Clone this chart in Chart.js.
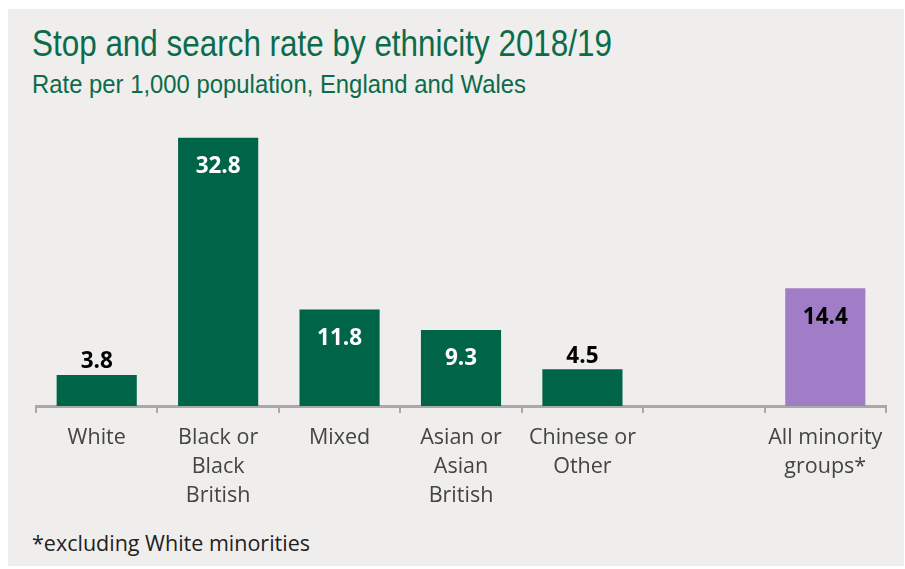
<!DOCTYPE html>
<html>
<head>
    <title>Stop and search rate by ethnicity</title>
    <script src="https://cdn.jsdelivr.net/npm/chart.js"></script>
    <style>
        body { margin: 0; background: #fff; }
        #panel {
            position: absolute; left: 8px; top: 9px; width: 896px; height: 557px;
            background: #efeeec;
        }
        .title {
            position: absolute; left: 24px; top: 14px; margin: 0;
            font-family: "Liberation Sans Narrow", "Liberation Sans", sans-serif;
            font-size: 36px; font-weight: normal; color: #0b6b4b; white-space: nowrap;
            transform-origin: left top;
        }
        .subtitle {
            position: absolute; left: 24px; top: 61px; margin: 0;
            font-family: "Liberation Sans Narrow", "Liberation Sans", sans-serif;
            font-size: 25px; font-weight: normal; color: #0b6b4b; white-space: nowrap;
            transform-origin: left top;
        }
        .note {
            position: absolute; left: 24px; top: 518px; white-space: nowrap;
            font-family: "Open Sans", sans-serif; font-size: 22px; color: #222;
            transform-origin: left top;
        }
        #chart { position: absolute; left: 0; top: 0; }
    </style>
</head>
<body>
    <div id="panel">
        <h1 class="title" id="title">Stop and search rate by ethnicity 2018/19</h1>
        <h2 class="subtitle" id="subtitle">Rate per 1,000 population, England and Wales</h2>
        <div class="note" id="note">*excluding White minorities</div>
    </div>
    <div style="position:absolute;left:0;top:0;width:905px;height:569px;">
        <canvas id="chart" width="905" height="569"></canvas>
    </div>
    <script>
        const categories = [
            ['White'],
            ['Black or', 'Black', 'British'],
            ['Mixed'],
            ['Asian or', 'Asian', 'British'],
            ['Chinese or', 'Other'],
            [''],
            ['All minority', 'groups*']
        ];
        const rates = [3.8, 32.8, 11.8, 9.3, 4.5, null, 14.4];
        const barColors = ['#006548', '#006548', '#006548', '#006548', '#006548', '#006548', '#a17dc8'];
        const labelColors = ['#000', '#fff', '#fff', '#fff', '#000', '#000', '#000'];

        // squeeze heading text to the widths seen in the original
        function fitWidth(id, target) {
            const el = document.getElementById(id);
            const w = el.getBoundingClientRect().width;
            el.style.transform = 'scaleX(' + (target / w) + ')';
        }
        fitWidth('title', 580);
        fitWidth('subtitle', 494);
        fitWidth('note', 278);

        // value labels: inside the bar for tall bars, above for short ones
        const valueLabels = {
            id: 'valueLabels',
            afterDatasetsDraw(chart) {
                const ctx = chart.ctx;
                const meta = chart.getDatasetMeta(0);
                ctx.save();
                ctx.font = 'bold 22.5px "Open Sans", sans-serif';
                ctx.textAlign = 'center';
                ctx.textBaseline = 'middle';
                meta.data.forEach((bar, i) => {
                    const v = rates[i];
                    if (v === null) return;
                    const h = bar.base - bar.y;
                    if (h > 50) {
                        ctx.fillStyle = labelColors[i];
                        ctx.fillText(v.toFixed(1), bar.x, bar.y + 29);
                    } else {
                        ctx.fillStyle = '#000';
                        ctx.fillText(v.toFixed(1), bar.x, bar.y - 13);
                    }
                });
                ctx.restore();
            }
        };

        new Chart(document.getElementById('chart'), {
            type: 'bar',
            data: {
                labels: categories,
                datasets: [{
                    data: rates,
                    backgroundColor: barColors,
                    barPercentage: 0.66,
                    categoryPercentage: 1
                }]
            },
            options: {
                responsive: false,
                animation: false,
                layout: { padding: { left: 36, right: 19, top: 79, bottom: 30 } },
                plugins: { legend: { display: false }, tooltip: { enabled: false } },
                scales: {
                    y: { display: false, min: 0, max: 40 },
                    x: {
                        afterFit: s => { s.height = 133; },
                        border: { display: true, color: '#a9a9a9', width: 3 },
                        grid: {
                            offset: true, drawOnChartArea: false, drawTicks: true,
                            tickLength: 7, color: '#a9a9a9', lineWidth: 2
                        },
                        ticks: {
                            color: '#444', padding: 10,
                            font: { family: '"Open Sans", sans-serif', size: 21.5, lineHeight: 1.35 },
                            maxRotation: 0, autoSkip: false
                        }
                    }
                }
            },
            plugins: [valueLabels]
        });
    </script>
</body>
</html>
